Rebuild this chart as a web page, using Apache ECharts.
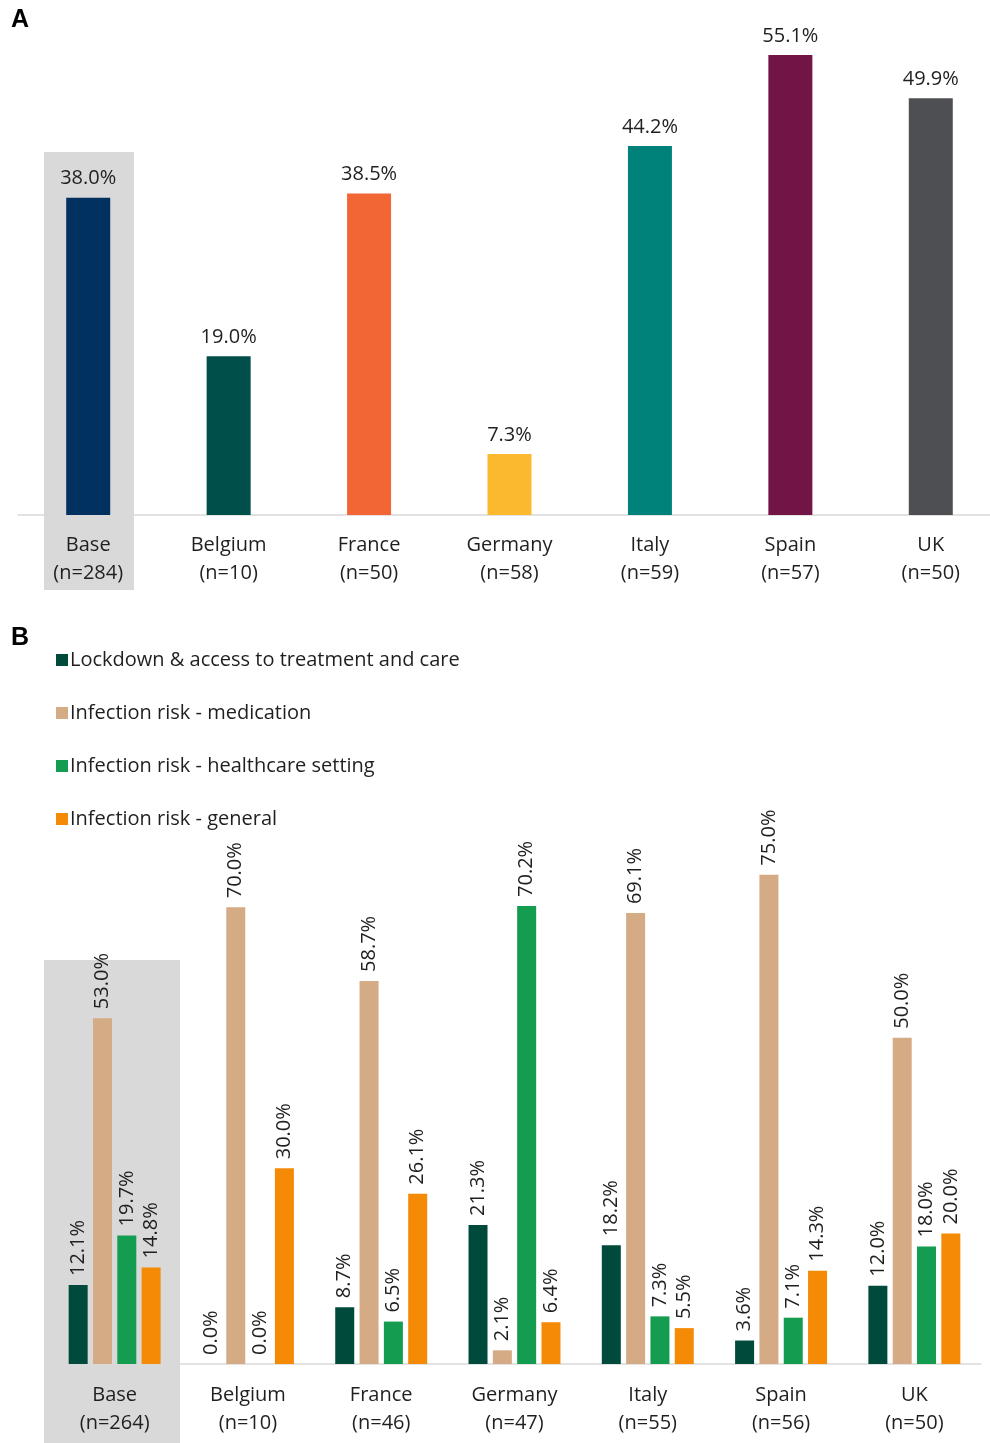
<!DOCTYPE html>
<html><head><meta charset="utf-8">
<script src="https://cdn.jsdelivr.net/npm/echarts@6/dist/echarts.min.js"></script>
<style>html,body{margin:0;padding:0;background:#fff;overflow:hidden}#c{width:1001px;height:1443px}</style>
</head><body><div id="c"></div>
<script>
// Panel A
const catsA = ['Base\n(n=284)','Belgium\n(n=10)','France\n(n=50)','Germany\n(n=58)','Italy\n(n=59)','Spain\n(n=57)','UK\n(n=50)'];
const valsA = [38.0, 19.0, 38.5, 7.3, 44.2, 55.1, 49.9];
const colorsA = ['#00315f','#004f4a','#f26636','#fbb930','#00827b','#721546','#4d4f53'];
// Panel B
const catsB = ['Base\n(n=264)','Belgium\n(n=10)','France\n(n=46)','Germany\n(n=47)','Italy\n(n=55)','Spain\n(n=56)','UK\n(n=50)'];
const seriesNamesB = ['Lockdown & access to treatment and care','Infection risk - medication','Infection risk - healthcare setting','Infection risk - general'];
const lockdown   = [12.1, 0.0, 8.7, 21.3, 18.2, 3.6, 12.0];
const medication = [53.0, 70.0, 58.7, 2.1, 69.1, 75.0, 50.0];
const healthcare = [19.7, 0.0, 6.5, 70.2, 7.3, 7.1, 18.0];
const general    = [14.8, 30.0, 26.1, 6.4, 5.5, 14.3, 20.0];
const colorsB = ['#004a3c','#d4ab85','#149c50','#f58a07'];

const FONT = '"Open Sans", sans-serif';
const TXT = '#1f1f1f';
const chart = echarts.init(document.getElementById('c'));
const valsB = [lockdown, medication, healthcare, general];

chart.setOption({
  animation:false,
  textStyle:{fontFamily:FONT},
  graphic:[
    {type:'rect', z:-10, shape:{x:44,y:152,width:90,height:438}, style:{fill:'#d9d9d9'}},
    {type:'rect', z:-10, shape:{x:44,y:960,width:136,height:483}, style:{fill:'#d9d9d9'}},
    {type:'text', left:11, top:8, style:{text:'A', font:'bold 25px "Liberation Sans", Arial, sans-serif', fill:'#000'}},
    {type:'text', left:11, top:626, style:{text:'B', font:'bold 25px "Liberation Sans", Arial, sans-serif', fill:'#000'}}
  ],
  legend:{
    orient:'vertical', left:51, top:644, itemWidth:12, itemHeight:12, itemGap:31,
    icon:'rect', data:seriesNamesB,
    textStyle:{fontFamily:FONT, fontSize:20, color:TXT, padding:[0,0,0,-3], lineHeight:22}
  },
  grid:[
    {left:18, width:983, top:14, height:501},
    {left:48, width:933, top:842, height:522}
  ],
  xAxis:[
    {type:'category', gridIndex:0, data:catsA, axisTick:{show:false},
     axisLine:{lineStyle:{color:'#d9d9d9', width:1.5}},
     axisLabel:{margin:16, fontSize:20, color:TXT, lineHeight:28, fontFamily:FONT}},
    {type:'category', gridIndex:1, data:catsB, axisTick:{show:false},
     axisLine:{lineStyle:{color:'#d9d9d9', width:1.5}},
     axisLabel:{margin:17, fontSize:20, color:TXT, lineHeight:28, fontFamily:FONT}}
  ],
  yAxis:[
    {type:'value', gridIndex:0, min:0, max:60, show:false},
    {type:'value', gridIndex:1, min:0, max:80, show:false}
  ],
  series:[
    {type:'bar', name:'A', xAxisIndex:0, yAxisIndex:0, barWidth:44,
     data: valsA.map((v,i)=>({value:v, itemStyle:{color:colorsA[i]}})),
     label:{show:true, position:'top', distance:9, fontSize:20, color:TXT, fontFamily:FONT,
            formatter:p=>p.value.toFixed(1)+'%'}}
  ].concat(valsB.map((arr,k)=>({
     type:'bar', name:seriesNamesB[k], xAxisIndex:1, yAxisIndex:1,
     barWidth:19, barGap:'28%', itemStyle:{color:colorsB[k]},
     data:arr,
     label:{show:true, position:'top', rotate:90, align:'left', verticalAlign:'middle',
            distance:9, fontSize:20, color:TXT, fontFamily:FONT,
            formatter:p=>p.value.toFixed(1)+'%'}
  })))
});
</script></body></html>
